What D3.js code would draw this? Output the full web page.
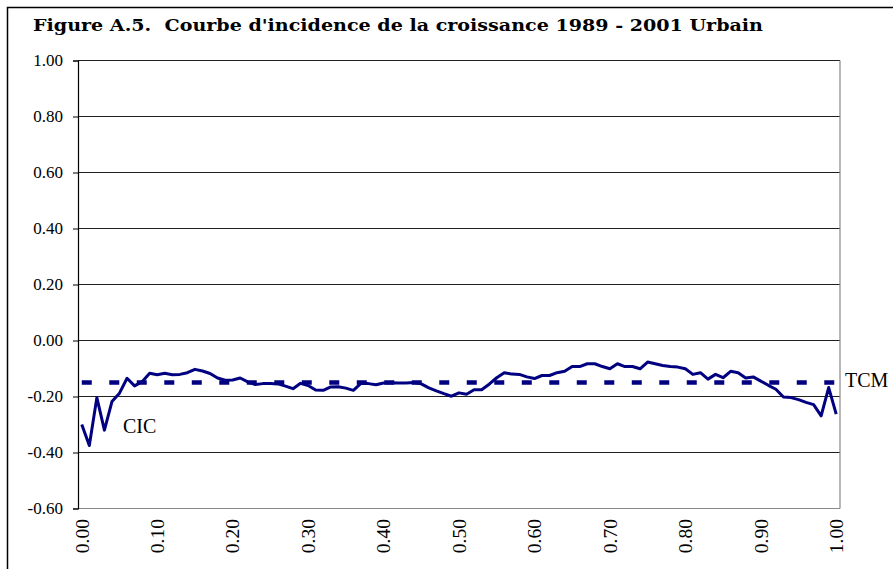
<!DOCTYPE html>
<html>
<head>
<meta charset="utf-8">
<script src="https://cdn.jsdelivr.net/npm/d3@7"></script>
<style>
  html, body { margin: 0; padding: 0; background: #fff; }
  svg { display: block; }
</style>
</head>
<body>
<svg id="chart" width="893" height="569"></svg>
<script>
// ---- data ----
const titleText = "Figure A.5.  Courbe d'incidence de la croissance 1989 - 2001 Urbain";
const percentiles = d3.range(101); // categories 0.00 .. 1.00 by 0.01
const xTickLabels = ["0.00","0.10","0.20","0.30","0.40","0.50","0.60","0.70","0.80","0.90","1.00"];
const xTickIndex = [0,10,20,30,40,50,60,70,80,90,100];
const yTicks = [-0.6,-0.4,-0.2,0,0.2,0.4,0.6,0.8,1.0];
const cicValues = [
  -0.300,-0.375,-0.204,-0.320,-0.218,-0.188,-0.135,-0.162,-0.147,-0.117,
  -0.122,-0.117,-0.122,-0.121,-0.115,-0.103,-0.109,-0.118,-0.134,-0.142,
  -0.141,-0.134,-0.148,-0.157,-0.154,-0.154,-0.155,-0.163,-0.172,-0.153,
  -0.161,-0.177,-0.178,-0.166,-0.165,-0.170,-0.178,-0.153,-0.154,-0.158,
  -0.152,-0.151,-0.152,-0.152,-0.150,-0.155,-0.169,-0.180,-0.190,-0.199,
  -0.187,-0.192,-0.176,-0.176,-0.156,-0.133,-0.115,-0.120,-0.121,-0.130,
  -0.136,-0.125,-0.125,-0.115,-0.110,-0.093,-0.093,-0.083,-0.083,-0.093,
  -0.101,-0.083,-0.093,-0.093,-0.101,-0.077,-0.083,-0.089,-0.093,-0.095,
  -0.101,-0.121,-0.115,-0.138,-0.121,-0.133,-0.110,-0.115,-0.134,-0.130,
  -0.145,-0.160,-0.174,-0.202,-0.204,-0.211,-0.221,-0.229,-0.269,-0.168,
  -0.263
];
const tcmValue = -0.15;
const seriesLabels = ["CIC", "TCM"];

// ---- drawing ----
const svg = d3.select("#chart");
const navy = "#000080";

// outer frame
svg.append("rect").attr("x", 7.5).attr("y", 7.5).attr("width", 900).attr("height", 600)
  .attr("fill", "none").attr("stroke", "#000").attr("stroke-width", 1.5);

// title
svg.append("text").attr("x", 33).attr("y", 31)
  .attr("font-family", "DejaVu Serif").attr("font-weight", "bold").attr("font-size", 16)
  .attr("textLength", 730).attr("lengthAdjust", "spacingAndGlyphs")
  .attr("fill", "#000").style("white-space", "pre").text(titleText);

const x = d3.scaleBand().domain(percentiles).range([78, 840]);
const cx = i => x(i) + x.bandwidth() / 2;
const y = d3.scaleLinear().domain([-0.6, 1.0]).range([508.5, 60.5]);

// gridlines
svg.append("g").selectAll("line").data(yTicks.filter(v => v > -0.6)).join("line")
  .attr("x1", 78).attr("x2", 840).attr("y1", d => y(d)).attr("y2", d => y(d))
  .attr("stroke", "#222").attr("stroke-width", 1);

// right border & bottom axis (gray)
svg.append("line").attr("x1", 840).attr("x2", 840).attr("y1", y(1.0)).attr("y2", y(-0.6))
  .attr("stroke", "#888").attr("stroke-width", 1.2);
svg.append("line").attr("x1", 78).attr("x2", 840).attr("y1", y(-0.6)).attr("y2", y(-0.6))
  .attr("stroke", "#888").attr("stroke-width", 1.2);

// y axis
const yAxis = d3.axisLeft(y).tickValues(yTicks).tickFormat(d3.format(".2f")).tickSize(5).tickPadding(10);
const ya = svg.append("g").attr("transform", "translate(78,0)").call(yAxis);
ya.select(".domain").attr("stroke", "#000").attr("stroke-width", 1.2);
ya.selectAll(".tick line").attr("stroke", "#000");
ya.selectAll(".tick text").attr("font-family", "Liberation Serif").attr("font-size", 17).attr("fill", "#000")
  .text(d => d3.format(".2f")(d).replace("\u2212", "-"));

// x labels (rotated)
svg.append("g").selectAll("text").data(xTickIndex).join("text")
  .attr("transform", (d) => `translate(${cx(d)},519) rotate(-90)`)
  .attr("text-anchor", "end").attr("dy", "0.35em")
  .attr("font-family", "Liberation Serif").attr("font-size", 19.5).attr("fill", "#000")
  .text((d, i) => xTickLabels[i]);

// TCM dashed line
svg.append("line").attr("x1", cx(0)).attr("x2", cx(100))
  .attr("y1", y(tcmValue)).attr("y2", y(tcmValue))
  .attr("stroke", navy).attr("stroke-width", 4.5).attr("stroke-dasharray", "10,17.5");

// CIC line
const line = d3.line().x((d, i) => cx(percentiles[i])).y(d => y(d));
svg.append("path").datum(cicValues).attr("d", line)
  .attr("fill", "none").attr("stroke", navy).attr("stroke-width", 3).attr("stroke-linejoin", "round");

// labels
svg.append("text").attr("x", 123).attr("y", 433).attr("font-family", "Liberation Serif")
  .attr("font-size", 20).attr("fill", "#000").text(seriesLabels[0]);
svg.append("text").attr("x", 845).attr("y", 387).attr("font-family", "Liberation Serif")
  .attr("font-size", 20).attr("fill", "#000").text(seriesLabels[1]);
</script>
</body>
</html>
